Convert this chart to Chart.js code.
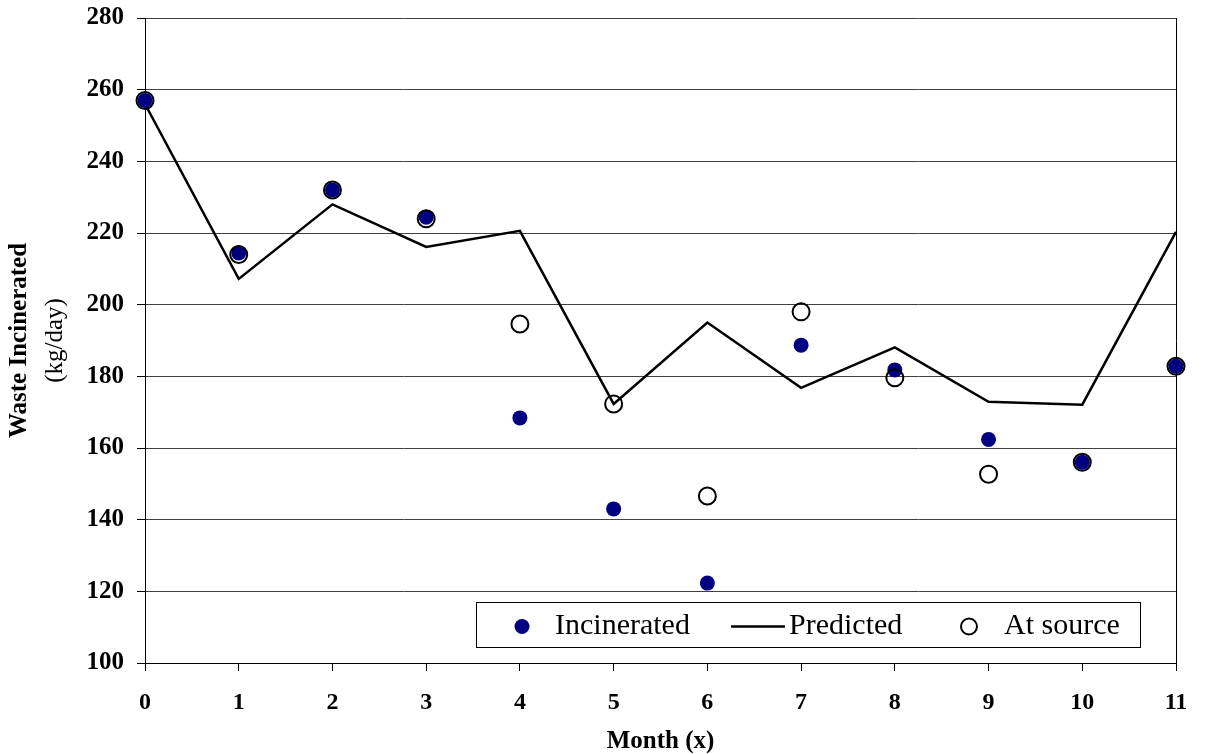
<!DOCTYPE html>
<html>
<head>
<meta charset="utf-8">
<script src="https://cdn.jsdelivr.net/npm/chart.js@4"></script>
<style>
  html, body { margin: 0; padding: 0; background: #fff; }
  #wrap { width: 1210px; height: 754px; }
</style>
</head>
<body>
<div id="wrap"><canvas id="c" width="1210" height="754"></canvas></div>
<script>
// Month index along the x axis
const months = [0, 1, 2, 3, 4, 5, 6, 7, 8, 9, 10, 11];
// Waste incinerated (kg/day)
const incinerated = [257, 214.4, 232, 224.4, 168.4, 143, 122.3, 188.7, 181.8, 162.4, 156, 182.8];
// Predicted incineration (kg/day)
const predicted = [256, 207.2, 228, 216.1, 220.6, 172.3, 195, 176.8, 188.1, 172.9, 172.1, 220.3];
// Waste measured at source (kg/day)
const atSource = [257, 214, 232, 224, 194.6, 172.3, 146.6, 198, 179.6, 152.7, 156, 182.8];
// Axis tick values
const yTicks = [100, 120, 140, 160, 180, 200, 220, 240, 260, 280];
const xTicks = months;

const pts = arr => months.map((m, i) => ({ x: m, y: arr[i] }));

const SERIF = "'Liberation Serif', 'Times New Roman', serif";
const NAVY = '#000080';

// Frame line on the right side of the plot and the two-line y title
const framePlugin = {
  id: 'frame',
  beforeDatasetsDraw(chart) {
    const { ctx, chartArea: a } = chart;
    ctx.save();
    ctx.strokeStyle = '#000';
    ctx.lineWidth = 1;
    ctx.beginPath();
    ctx.moveTo(Math.round(a.right) + 0.5, a.top);
    ctx.lineTo(Math.round(a.right) + 0.5, a.bottom);
    ctx.stroke();
    ctx.restore();
  },
  afterDraw(chart) {
    const { ctx, chartArea: a } = chart;
    const cy = (a.top + a.bottom) / 2;
    ctx.save();
    ctx.fillStyle = '#000';
    ctx.textAlign = 'center';
    ctx.textBaseline = 'middle';
    ctx.translate(20, cy);
    ctx.rotate(-Math.PI / 2);
    ctx.font = `bold 25px ${SERIF}`;
    ctx.fillText('Waste Incinerated', 0, 0);
    ctx.font = `25px ${SERIF}`;
    ctx.fillText('(kg/day)', 0, 35);
    ctx.restore();
  }
};

// Boxed legend sitting inside the plot, lower right
const boxLegend = {
  id: 'boxLegend',
  afterDraw(chart) {
    const { ctx } = chart;
    const x0 = 476.5, y0 = 602.5, w = 664, h = 45;
    const cy = y0 + h / 2 + 1.5;
    ctx.save();
    ctx.fillStyle = '#fff';
    ctx.fillRect(x0, y0, w, h);
    ctx.strokeStyle = '#000';
    ctx.lineWidth = 1;
    ctx.strokeRect(x0, y0, w, h);

    ctx.font = `30px ${SERIF}`;
    ctx.fillStyle = '#000';
    ctx.textAlign = 'left';
    ctx.textBaseline = 'middle';

    // Incinerated: filled navy dot
    ctx.fillStyle = NAVY;
    ctx.beginPath();
    ctx.arc(522, cy, 7.5, 0, Math.PI * 2);
    ctx.fill();
    ctx.fillStyle = '#000';
    ctx.fillText('Incinerated', 555, cy);

    // Predicted: solid line
    ctx.strokeStyle = '#000';
    ctx.lineWidth = 2.5;
    ctx.beginPath();
    ctx.moveTo(731, cy);
    ctx.lineTo(785, cy);
    ctx.stroke();
    ctx.fillText('Predicted', 789, cy);

    // At source: open circle
    ctx.lineWidth = 2;
    ctx.beginPath();
    ctx.arc(969, cy, 8, 0, Math.PI * 2);
    ctx.stroke();
    ctx.fillText('At source', 1004, cy);
    ctx.restore();
  }
};

new Chart(document.getElementById('c'), {
  type: 'scatter',
  data: {
    datasets: [
      {
        label: 'At source',
        data: pts(atSource),
        pointRadius: 8.5,
        pointHoverRadius: 8.5,
        pointBorderWidth: 2,
        pointBorderColor: '#000',
        pointBackgroundColor: 'rgba(0,0,0,0)',
        showLine: false,
        clip: false
      },
      {
        label: 'Incinerated',
        data: pts(incinerated),
        pointRadius: 7.5,
        pointHoverRadius: 7.5,
        pointBorderWidth: 0,
        pointBackgroundColor: NAVY,
        showLine: false,
        clip: false
      },
      {
        label: 'Predicted',
        type: 'line',
        data: pts(predicted),
        borderColor: '#000',
        borderWidth: 2.5,
        pointRadius: 0,
        fill: false,
        tension: 0,
        clip: false
      }
    ]
  },
  plugins: [framePlugin, boxLegend],
  options: {
    responsive: false,
    animation: false,
    layout: { padding: { top: 18, right: 34, left: 0, bottom: 0 } },
    plugins: {
      legend: { display: false },
      tooltip: { enabled: false }
    },
    scales: {
      x: {
        type: 'linear',
        min: 0,
        max: 11,
        afterFit(s) { s.height = 91; s.paddingLeft = 0; s.paddingRight = 0; },
        afterBuildTicks(s) { s.ticks = xTicks.map(v => ({ value: v })); },
        grid: { drawOnChartArea: false, drawTicks: true, tickLength: 8, color: '#000' },
        border: { display: true, color: '#000', width: 1 },
        ticks: {
          color: '#000',
          padding: 17,
          maxRotation: 0,
          autoSkip: false,
          font: { family: SERIF, size: 24, weight: 'bold' }
        },
        title: {
          display: true,
          text: 'Month (x)',
          color: '#000',
          padding: 0,
          font: { family: SERIF, size: 25, weight: 'bold', lineHeight: 1 }
        }
      },
      y: {
        min: 100,
        max: 280,
        afterFit(s) { s.width = 145; s.paddingTop = 0; s.paddingBottom = 0; },
        afterBuildTicks(s) { s.ticks = yTicks.map(v => ({ value: v })); },
        grid: { color: '#404040', lineWidth: 1, tickLength: 8, tickColor: '#000' },
        border: { display: true, color: '#000', width: 1 },
        ticks: {
          color: '#000',
          padding: 13,
          font: { family: SERIF, size: 25, weight: 'bold' }
        }
      }
    }
  }
});
</script>
</body>
</html>
